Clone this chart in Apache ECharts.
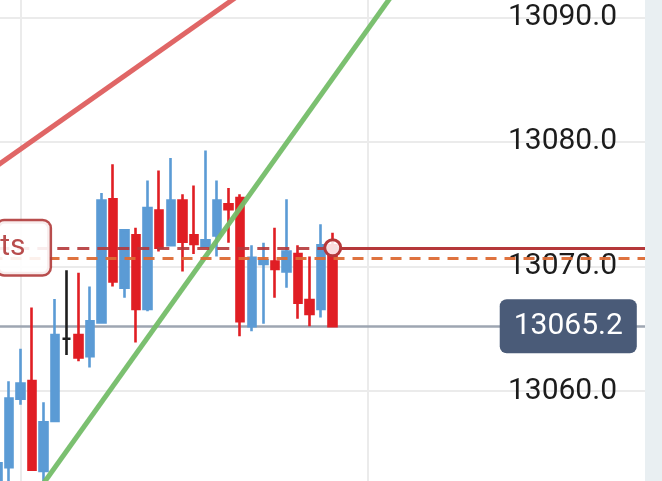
<!DOCTYPE html>
<html>
<head>
<meta charset="utf-8">
<script src="https://cdn.jsdelivr.net/npm/echarts@6/dist/echarts.min.js"></script>
<style>
html,body{margin:0;padding:0;background:#ffffff;}
#chart{width:662px;height:481px;}
</style>
</head>
<body>
<div id="chart"></div>
<script>
// ---- data ----
const opens  = [13052.0,13053.9,13059.4,13060.8,13053.6,13057.6,13064.2,13064.5,13062.8,13065.5,
                13075.4,13068.3,13072.5,13066.6,13074.5,13071.7,13075.3,13072.5,13071.6,13072.5,
                13075.0,13075.5,13065.2,13070.2,13070.4,13069.6,13071.0,13067.3,13066.6,13071.7];
const closes = [13054.2,13059.4,13060.6,13053.7,13057.5,13064.5,13064.2,13062.7,13065.6,13075.3,
                13068.8,13072.9,13066.6,13074.7,13071.5,13075.3,13072.0,13071.8,13072.1,13075.3,
                13074.6,13065.6,13070.7,13070.5,13069.8,13071.2,13067.1,13066.2,13071.7,13065.2];
const lows   = [13051.5,13052.0,13058.9,13053.6,13052.3,13057.6,13062.9,13062.4,13061.9,13065.4,
                13068.4,13067.5,13063.9,13066.4,13071.2,13071.6,13069.6,13071.0,13071.5,13070.8,
                13071.9,13064.4,13064.8,13065.4,13067.5,13068.3,13065.8,13065.2,13065.9,13065.2];
const highs  = [13054.3,13060.8,13063.4,13066.7,13059.1,13067.4,13069.7,13069.5,13068.4,13075.9,
                13078.2,13072.9,13073.1,13076.9,13077.7,13078.7,13075.8,13076.5,13079.3,13076.9,
                13076.3,13075.8,13071.7,13071.9,13073.1,13075.4,13071.7,13070.8,13073.4,13072.7];

const slotCount = 57;                       // candle slots on the time axis (incl. empty future)
const slots = Array.from({length: slotCount}, (_, i) => String(i));

const yMin = 13050, yMax = 13100, yStep = 10;
const lastPrice  = 13065.2;
const alertLevel = 13071.5;
const alertText  = 'ts';
const orderLevel = 13070.7;
const alertIndex = 29;
const resistanceLine = [[0, 13078.1], [22, 13092.5]];
const supportLine    = [[3, 13051.3], [35, 13092.9]];
const gridCandles    = [2, 32];

// ---- chart ----
const candles = opens.map((o, i) => [o, closes[i], lows[i], highs[i]]);
const chart = echarts.init(document.getElementById('chart'), null, {renderer: 'canvas'});

const FONT = 'Roboto';
const option = {
  animation: false,
  backgroundColor: '#ffffff',
  grid: {left: -8.48, right: 11.2, top: -107.3, bottom: -34.7, containLabel: false, outerBoundsMode: 'none'},
  xAxis: {
    type: 'category', data: slots, boundaryGap: true,
    axisLine: {show: false}, axisTick: {show: false}, axisLabel: {show: false},
    splitLine: {show: false}
  },
  yAxis: {
    type: 'value', position: 'right', min: yMin, max: yMax, interval: yStep, scale: true,
    axisLine: {show: false}, axisTick: {show: false},
    axisLabel: {inside: true, margin: 33.8, color: '#1c1c1c', fontSize: 30, fontFamily: FONT,
                verticalAlign: 'middle', formatter: v => v.toFixed(1)},
    splitLine: {show: true, lineStyle: {color: '#ebebeb', width: 2}}
  },
  series: [
    {
      name: 'resistance', type: 'line', data: resistanceLine, z: 3,
      symbol: 'none', silent: true, clip: true,
      lineStyle: {color: '#e06666', width: 5},
      markLine: {
        z: 1, silent: true, symbol: ['none', 'none'], animation: false,
        label: {show: false},
        lineStyle: {color: '#ebebeb', width: 2, type: 'solid'},
        data: [
          ...gridCandles.map(c => ({xAxis: c})),
          {yAxis: lastPrice,
           lineStyle: {color: '#9ea6b2', width: 2.5, type: 'solid'},
           label: {show: true, position: 'insideEnd', distance: [14, 0],
                   formatter: () => lastPrice.toFixed(1),
                   color: '#ffffff', fontFamily: FONT, fontSize: 30, lineHeight: 34,
                   backgroundColor: '#4a5b78', borderRadius: 7, padding: [10, 14, 10, 14]}}
        ]
      }
    },
    {
      name: 'support', type: 'line', data: supportLine, z: 3,
      symbol: 'none', silent: true, clip: true,
      lineStyle: {color: '#74bd68', width: 5, opacity: 0.95}
    },
    {
      name: 'price', type: 'candlestick', data: candles, z: 2,
      barWidth: 8,
      itemStyle: {
        color: '#5b9bd5', borderColor: '#5b9bd5',
        color0: '#e01e24', borderColor0: '#e01e24',
        borderColorDoji: '#1e1e1e', borderWidth: 2.6
      },
      markLine: {
        z: 5, silent: true, symbol: ['none', 'none'], animation: false,
        label: {show: false},
        data: [
          {yAxis: orderLevel, lineStyle: {color: '#dd6b35', width: 3, type: [11, 8], opacity: 0.95}},
          [
            {coord: [0, alertLevel],
             lineStyle: {color: '#b5383a', width: 3, type: [12, 8], opacity: 0.9},
             label: {show: true, position: 'insideStart', distance: [0, 0],
                     formatter: () => alertText,
                     color: '#b03a3a', fontFamily: FONT, fontSize: 30, lineHeight: 34,
                     backgroundColor: '#ffffff', borderColor: '#b03a3a', borderWidth: 2.5,
                     borderRadius: 7, padding: [9.5, 24, 9.5, 3]}},
            {coord: [alertIndex, alertLevel]}
          ],
          [
            {coord: [alertIndex, alertLevel],
             lineStyle: {color: '#b5383a', width: 3, type: 'solid'}},
            {coord: [slotCount - 1, alertLevel]}
          ]
        ]
      },
      markPoint: {
        z: 6, silent: true, animation: false,
        symbol: 'circle', symbolSize: 16,
        label: {show: false},
        itemStyle: {color: 'rgba(255,255,255,0.85)', borderColor: '#b5383a', borderWidth: 3},
        data: [{coord: [alertIndex, alertLevel]}]
      }
    }
  ],
  graphic: [
    {type: 'rect', z: 100, silent: true,
     shape: {x: 645, y: 0, width: 17, height: 481},
     style: {fill: '#e9eff2'}}
  ]
};
chart.setOption(option);
</script>
</body>
</html>
